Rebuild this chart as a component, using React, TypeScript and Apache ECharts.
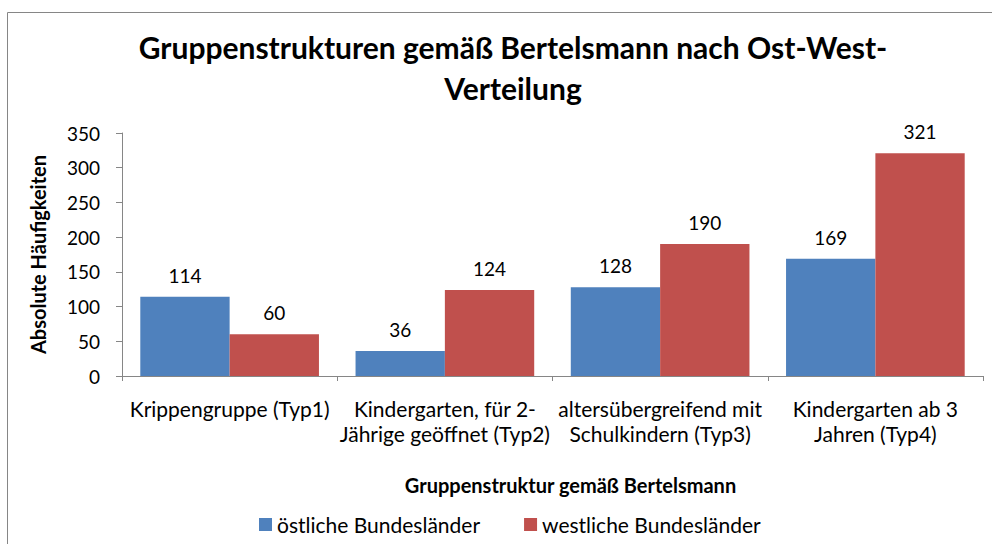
import React, { useEffect, useRef } from "react";
import * as echarts from "echarts";

const categories = [
  "Krippengruppe (Typ1)",
  "Kindergarten, für 2-\nJährige geöffnet (Typ2)",
  "altersübergreifend mit\nSchulkindern (Typ3)",
  "Kindergarten ab 3\nJahren (Typ4)",
];
const eastValues = [114, 36, 128, 169];
const westValues = [60, 124, 190, 321];
const seriesNames = ["östliche Bundesländer", "westliche Bundesländer"];
const titleText = "Gruppenstrukturen gemäß Bertelsmann nach Ost-West-\nVerteilung";
const xAxisName = "Gruppenstruktur gemäß Bertelsmann";
const yAxisName = "Absolute Häufigkeiten";

const FONT = "Lato, 'Open Sans', sans-serif";

export default function App() {
  const ref = useRef<HTMLDivElement>(null);
  useEffect(() => {
    if (!ref.current) return;
    const chart = echarts.init(ref.current, null, { renderer: "svg" });
    const labelStyle = {
      show: true,
      position: "top" as const,
      distance: 12,
      color: "#000",
      fontFamily: FONT,
      fontSize: 19,
    };
    chart.setOption({
      animation: false,
      backgroundColor: "#fff",
      textStyle: { fontFamily: FONT },
      title: {
        text: titleText,
        left: 508,
        textAlign: "center",
        top: 21,
        textStyle: {
          fontFamily: FONT,
          fontSize: 30,
          fontWeight: "bold",
          color: "#000",
          lineHeight: 41,
        },
      },
      legend: {
        left: 254,
        top: 509,
        itemWidth: 13,
        itemHeight: 13,
        itemGap: 44,
        icon: "rect",
        textStyle: { fontFamily: FONT, fontSize: 21, color: "#000" },
        data: seriesNames,
      },
      grid: { left: 122, right: 9, top: 133, bottom: 168, containLabel: false },
      xAxis: {
        type: "category",
        data: categories,
        axisLine: { lineStyle: { color: "#868686" } },
        axisTick: { show: true, length: 5, lineStyle: { color: "#868686" } },
        axisLabel: {
          interval: 0,
          color: "#000",
          fontFamily: FONT,
          fontSize: 21,
          lineHeight: 25,
          margin: 20,
        },
        name: xAxisName,
        nameLocation: "middle",
        nameGap: 99,
        nameTextStyle: {
          fontFamily: FONT,
          fontSize: 20,
          fontWeight: "bold",
          color: "#000",
          padding: [0, 0, 0, 36],
        },
      },
      yAxis: {
        type: "value",
        min: 0,
        max: 350,
        interval: 50,
        splitLine: { show: false },
        axisLine: { show: true, lineStyle: { color: "#868686" } },
        axisTick: { show: true, length: 6, lineStyle: { color: "#868686" } },
        axisLabel: { color: "#000", fontFamily: FONT, fontSize: 19, margin: 22 },
        name: yAxisName,
        nameLocation: "middle",
        nameGap: 74,
        nameRotate: 90,
        nameTextStyle: { fontFamily: FONT, fontSize: 20, fontWeight: "bold", color: "#000" },
      },
      series: [
        {
          name: seriesNames[0],
          type: "bar",
          data: eastValues,
          barGap: "0%",
          barCategoryGap: "17%",
          itemStyle: { color: "#4F81BD" },
          label: labelStyle,
        },
        {
          name: seriesNames[1],
          type: "bar",
          data: westValues,
          barGap: "0%",
          barCategoryGap: "17%",
          itemStyle: { color: "#C0504D" },
          label: labelStyle,
        },
      ],
      graphic: [
        {
          type: "rect",
          left: 5,
          top: 10,
          shape: { width: 1010, height: 540 },
          style: { fill: "none", stroke: "#868686", lineWidth: 1 },
          silent: true,
          z: -1,
        },
      ],
    });
    return () => chart.dispose();
  }, []);
  return (
    <div
      ref={ref}
      style={{ position: "fixed", left: 0, top: 0, width: 992, height: 544 }}
    />
  );
}
